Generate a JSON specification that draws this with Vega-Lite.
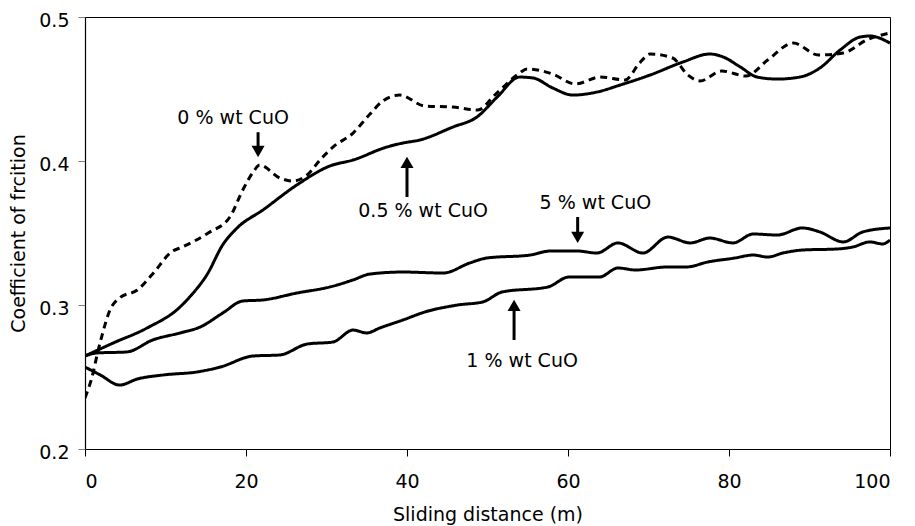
{
  "$schema": "https://vega.github.io/schema/vega-lite/v6.json",
  "width": 805,
  "height": 432,
  "autosize": "none",
  "padding": {"left": 85, "top": 17, "right": 25, "bottom": 77},
  "background": "white",
  "config": {
    "view": {"stroke": "#000", "strokeWidth": 1},
    "font": "DejaVu Sans",
    "axis": {
      "labelFont": "DejaVu Sans", "titleFont": "DejaVu Sans",
      "labelFontSize": 19, "titleFontSize": 19, "titleFontWeight": "normal",
      "labelColor": "#000", "titleColor": "#000",
      "domainColor": "#000", "domainWidth": 1.2,
      "tickSize": 7, "grid": false
    }
  },
  "datasets": {
    "curves": [
      {"s": "0.5", "d": 0, "v": 0.2646}, {"s": "0.5", "d": 3.5, "v": 0.2736}, {"s": "0.5", "d": 7.7, "v": 0.284}, {"s": "0.5", "d": 11.8, "v": 0.2986}, {"s": "0.5", "d": 13.0, "v": 0.3056}, {"s": "0.5", "d": 15.2, "v": 0.3215}, {"s": "0.5", "d": 17.1, "v": 0.3417}, {"s": "0.5", "d": 18.9, "v": 0.3535}, {"s": "0.5", "d": 22.1, "v": 0.366}, {"s": "0.5", "d": 26.3, "v": 0.3833}, {"s": "0.5", "d": 30.4, "v": 0.3965}, {"s": "0.5", "d": 33.3, "v": 0.4007}, {"s": "0.5", "d": 37.5, "v": 0.4097}, {"s": "0.5", "d": 39.5, "v": 0.4125}, {"s": "0.5", "d": 41.6, "v": 0.4146}, {"s": "0.5", "d": 45.7, "v": 0.4236}, {"s": "0.5", "d": 48.7, "v": 0.4306}, {"s": "0.5", "d": 51.2, "v": 0.4444}, {"s": "0.5", "d": 54.0, "v": 0.4583}, {"s": "0.5", "d": 55.7, "v": 0.4576}, {"s": "0.5", "d": 58.1, "v": 0.4507}, {"s": "0.5", "d": 60.6, "v": 0.4458}, {"s": "0.5", "d": 63.6, "v": 0.4479}, {"s": "0.5", "d": 66.5, "v": 0.4528}, {"s": "0.5", "d": 70.2, "v": 0.4597}, {"s": "0.5", "d": 74.3, "v": 0.4688}, {"s": "0.5", "d": 77.6, "v": 0.4743}, {"s": "0.5", "d": 79.3, "v": 0.4722}, {"s": "0.5", "d": 81.4, "v": 0.4653}, {"s": "0.5", "d": 83.5, "v": 0.4583}, {"s": "0.5", "d": 86.0, "v": 0.4569}, {"s": "0.5", "d": 88.8, "v": 0.4583}, {"s": "0.5", "d": 91.3, "v": 0.4646}, {"s": "0.5", "d": 93.8, "v": 0.4771}, {"s": "0.5", "d": 96.3, "v": 0.4861}, {"s": "0.5", "d": 97.5, "v": 0.4868}, {"s": "0.5", "d": 100, "v": 0.4819},

      {"s": "0", "d": 0, "v": 0.2354}, {"s": "0", "d": 1.0, "v": 0.2528}, {"s": "0", "d": 1.5, "v": 0.2653}, {"s": "0", "d": 2.1, "v": 0.2785}, {"s": "0", "d": 3.1, "v": 0.2965}, {"s": "0", "d": 4.3, "v": 0.3049}, {"s": "0", "d": 6.5, "v": 0.3104}, {"s": "0", "d": 8.4, "v": 0.3215}, {"s": "0", "d": 10.9, "v": 0.3375}, {"s": "0", "d": 11.8, "v": 0.3396}, {"s": "0", "d": 15.3, "v": 0.35}, {"s": "0", "d": 18.0, "v": 0.3611}, {"s": "0", "d": 19.6, "v": 0.3799}, {"s": "0", "d": 20.9, "v": 0.3924}, {"s": "0", "d": 21.7, "v": 0.3972}, {"s": "0", "d": 24.2, "v": 0.3882}, {"s": "0", "d": 25.8, "v": 0.3861}, {"s": "0", "d": 27.6, "v": 0.3903}, {"s": "0", "d": 29.2, "v": 0.4007}, {"s": "0", "d": 30.8, "v": 0.4097}, {"s": "0", "d": 33.3, "v": 0.4194}, {"s": "0", "d": 35.4, "v": 0.4326}, {"s": "0", "d": 37.0, "v": 0.4417}, {"s": "0", "d": 39.1, "v": 0.4458}, {"s": "0", "d": 42.2, "v": 0.4382}, {"s": "0", "d": 45.7, "v": 0.4375}, {"s": "0", "d": 48.8, "v": 0.4354}, {"s": "0", "d": 50.9, "v": 0.4458}, {"s": "0", "d": 54.0, "v": 0.4611}, {"s": "0", "d": 54.9, "v": 0.4639}, {"s": "0", "d": 58.1, "v": 0.4604}, {"s": "0", "d": 60.9, "v": 0.4535}, {"s": "0", "d": 64.0, "v": 0.4583}, {"s": "0", "d": 67.1, "v": 0.4563}, {"s": "0", "d": 68.9, "v": 0.4681}, {"s": "0", "d": 70.2, "v": 0.4743}, {"s": "0", "d": 73.0, "v": 0.4715}, {"s": "0", "d": 74.9, "v": 0.4597}, {"s": "0", "d": 76.4, "v": 0.4556}, {"s": "0", "d": 79.1, "v": 0.4625}, {"s": "0", "d": 82.1, "v": 0.459}, {"s": "0", "d": 84.8, "v": 0.4701}, {"s": "0", "d": 88.0, "v": 0.4819}, {"s": "0", "d": 91.1, "v": 0.4736}, {"s": "0", "d": 94.2, "v": 0.475}, {"s": "0", "d": 97.1, "v": 0.484}, {"s": "0", "d": 100, "v": 0.4889},

      {"s": "5", "d": 0, "v": 0.2646}, {"s": "5", "d": 1.5, "v": 0.2667}, {"s": "5", "d": 5.2, "v": 0.2674}, {"s": "5", "d": 8.4, "v": 0.2757}, {"s": "5", "d": 11.8, "v": 0.2806}, {"s": "5", "d": 14.3, "v": 0.2847}, {"s": "5", "d": 17.1, "v": 0.2944}, {"s": "5", "d": 19.6, "v": 0.3028}, {"s": "5", "d": 22.1, "v": 0.3035}, {"s": "5", "d": 26.3, "v": 0.3083}, {"s": "5", "d": 30.4, "v": 0.3125}, {"s": "5", "d": 33.3, "v": 0.3174}, {"s": "5", "d": 35.4, "v": 0.3215}, {"s": "5", "d": 39.5, "v": 0.3229}, {"s": "5", "d": 44.5, "v": 0.3222}, {"s": "5", "d": 47.8, "v": 0.3292}, {"s": "5", "d": 49.9, "v": 0.3326}, {"s": "5", "d": 55.3, "v": 0.3347}, {"s": "5", "d": 57.8, "v": 0.3375}, {"s": "5", "d": 61.1, "v": 0.3375}, {"s": "5", "d": 63.6, "v": 0.3361}, {"s": "5", "d": 66.2, "v": 0.3431}, {"s": "5", "d": 69.3, "v": 0.3361}, {"s": "5", "d": 72.4, "v": 0.3472}, {"s": "5", "d": 75.2, "v": 0.3431}, {"s": "5", "d": 77.6, "v": 0.3465}, {"s": "5", "d": 80.5, "v": 0.3431}, {"s": "5", "d": 83.0, "v": 0.3493}, {"s": "5", "d": 86.0, "v": 0.3486}, {"s": "5", "d": 89.1, "v": 0.3535}, {"s": "5", "d": 91.3, "v": 0.3507}, {"s": "5", "d": 94.2, "v": 0.3438}, {"s": "5", "d": 96.6, "v": 0.3507}, {"s": "5", "d": 100, "v": 0.3535},

      {"s": "1", "d": 0, "v": 0.2569}, {"s": "1", "d": 1.9, "v": 0.2514}, {"s": "1", "d": 4.3, "v": 0.2444}, {"s": "1", "d": 6.5, "v": 0.2486}, {"s": "1", "d": 9.7, "v": 0.2514}, {"s": "1", "d": 13.9, "v": 0.2535}, {"s": "1", "d": 16.8, "v": 0.2569}, {"s": "1", "d": 20.9, "v": 0.2646}, {"s": "1", "d": 24.2, "v": 0.2653}, {"s": "1", "d": 27.6, "v": 0.2729}, {"s": "1", "d": 30.8, "v": 0.2743}, {"s": "1", "d": 33.3, "v": 0.2826}, {"s": "1", "d": 35.0, "v": 0.2806}, {"s": "1", "d": 36.6, "v": 0.284}, {"s": "1", "d": 39.5, "v": 0.2896}, {"s": "1", "d": 42.2, "v": 0.2951}, {"s": "1", "d": 46.3, "v": 0.3}, {"s": "1", "d": 49.4, "v": 0.3021}, {"s": "1", "d": 51.8, "v": 0.309}, {"s": "1", "d": 57.5, "v": 0.3125}, {"s": "1", "d": 60.1, "v": 0.3194}, {"s": "1", "d": 63.9, "v": 0.3194}, {"s": "1", "d": 66.2, "v": 0.3257}, {"s": "1", "d": 68.4, "v": 0.3243}, {"s": "1", "d": 72.3, "v": 0.3264}, {"s": "1", "d": 74.7, "v": 0.3264}, {"s": "1", "d": 77.4, "v": 0.3299}, {"s": "1", "d": 80.7, "v": 0.3326}, {"s": "1", "d": 83.0, "v": 0.3347}, {"s": "1", "d": 84.8, "v": 0.3333}, {"s": "1", "d": 86.7, "v": 0.3361}, {"s": "1", "d": 89.2, "v": 0.3382}, {"s": "1", "d": 93.4, "v": 0.3389}, {"s": "1", "d": 95.4, "v": 0.3403}, {"s": "1", "d": 97.5, "v": 0.3438}, {"s": "1", "d": 99.1, "v": 0.3424}, {"s": "1", "d": 100, "v": 0.3451}
    ],
    "arrows": [
      {"d": 21.5, "v1": 0.4200, "v2": 0.4075, "hv": 0.4066, "dir": "down"},
      {"d": 40.0, "v1": 0.3750, "v2": 0.3985, "hv": 0.3990, "dir": "up"},
      {"d": 61.2, "v1": 0.3611, "v2": 0.3478, "hv": 0.3469, "dir": "down"},
      {"d": 53.3, "v1": 0.2757, "v2": 0.2990, "hv": 0.2997, "dir": "up"}
    ],
    "labels": [
      {"d": 18.4, "v": 0.4299, "t": "0 % wt CuO"},
      {"d": 42.0, "v": 0.3653, "t": "0.5 % wt CuO"},
      {"d": 63.4, "v": 0.3708, "t": "5 % wt CuO"},
      {"d": 54.3, "v": 0.2611, "t": "1 % wt CuO"}
    ]
  },
  "layer": [
    {
      "data": {"name": "curves"},
      "mark": {"type": "line", "interpolate": "monotone", "color": "#000", "strokeWidth": 3, "clip": true},
      "encoding": {
        "x": {"field": "d", "type": "quantitative", "scale": {"domain": [0, 100], "nice": false},
              "axis": {"title": "Sliding distance (m)", "values": [0, 20, 40, 60, 80, 100], "labelPadding": 16, "titlePadding": 14, "tickColor": "#000"}},
        "y": {"field": "v", "type": "quantitative", "scale": {"domain": [0.2, 0.5], "nice": false, "zero": false},
              "axis": {"title": "Coefficient of frcition", "values": [0.2, 0.3, 0.4, 0.5], "format": ".1f", "labelPadding": 9, "titlePadding": 10, "labelOffset": 3, "tickColor": "#808080"}},
        "detail": {"field": "s"},
        "strokeDash": {"field": "s", "type": "nominal", "legend": null,
                       "scale": {"domain": ["0", "0.5", "1", "5"], "range": [[7, 5], [1, 0], [1, 0], [1, 0]]}}
      }
    },
    {
      "data": {"name": "arrows"},
      "mark": {"type": "rule", "color": "#000", "strokeWidth": 3},
      "encoding": {
        "x": {"field": "d", "type": "quantitative"},
        "y": {"field": "v1", "type": "quantitative"},
        "y2": {"field": "v2"}
      }
    },
    {
      "data": {"name": "arrows"},
      "mark": {"type": "point", "filled": true, "color": "#000", "opacity": 1, "size": 170},
      "encoding": {
        "x": {"field": "d", "type": "quantitative"},
        "y": {"field": "hv", "type": "quantitative"},
        "shape": {"field": "dir", "type": "nominal", "legend": null,
                  "scale": {"domain": ["down", "up"], "range": ["triangle-down", "triangle-up"]}}
      }
    },
    {
      "data": {"name": "labels"},
      "mark": {"type": "text", "font": "DejaVu Sans", "fontSize": 19, "color": "#000", "align": "center", "baseline": "middle"},
      "encoding": {
        "x": {"field": "d", "type": "quantitative"},
        "y": {"field": "v", "type": "quantitative"},
        "text": {"field": "t"}
      }
    }
  ]
}
